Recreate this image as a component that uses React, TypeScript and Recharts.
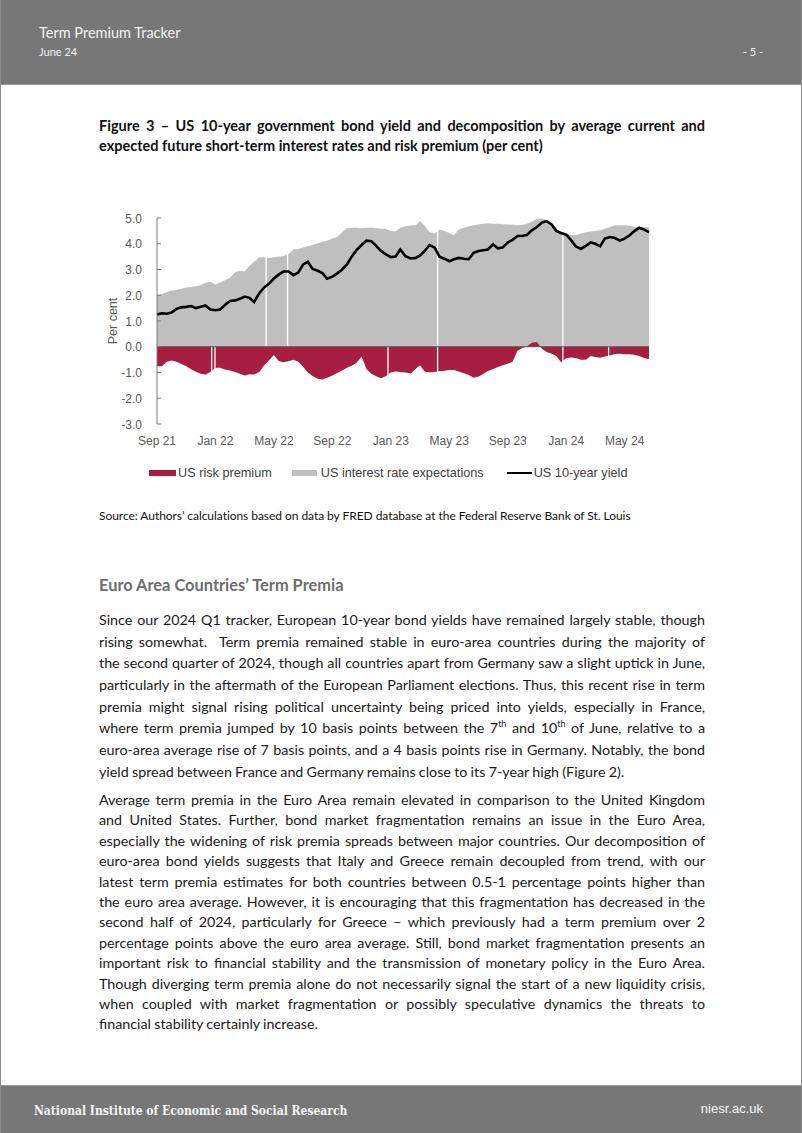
import React from 'react';
import { ComposedChart, Area, Line, XAxis, YAxis, ReferenceLine, Legend } from 'recharts';

const dates = [
  '2021-09-01','2021-09-11','2021-09-21','2021-10-01','2021-10-11','2021-10-21','2021-11-01','2021-11-11','2021-11-21','2021-12-01','2021-12-11','2021-12-21',
  '2022-01-01','2022-01-11','2022-01-21','2022-02-01','2022-02-11','2022-02-21','2022-03-01','2022-03-11','2022-03-21','2022-04-01','2022-04-11','2022-04-21',
  '2022-05-01','2022-05-11','2022-05-21','2022-06-01','2022-06-11','2022-06-21','2022-07-01','2022-07-11','2022-07-21','2022-08-01','2022-08-11','2022-08-21',
  '2022-09-01','2022-09-11','2022-09-21','2022-10-01','2022-10-11','2022-10-21','2022-11-01','2022-11-11','2022-11-21','2022-12-01','2022-12-11','2022-12-21',
  '2023-01-01','2023-01-11','2023-01-21','2023-02-01','2023-02-11','2023-02-21','2023-03-01','2023-03-11','2023-03-21','2023-04-01','2023-04-11','2023-04-21',
  '2023-05-01','2023-05-11','2023-05-21','2023-06-01','2023-06-11','2023-06-21','2023-07-01','2023-07-11','2023-07-21','2023-08-01','2023-08-11','2023-08-21',
  '2023-09-01','2023-09-11','2023-09-21','2023-10-01','2023-10-11','2023-10-21','2023-11-01','2023-11-11','2023-11-21','2023-12-01','2023-12-11','2023-12-21',
  '2024-01-01','2024-01-11','2024-01-21','2024-02-01','2024-02-11','2024-02-21','2024-03-01','2024-03-11','2024-03-21','2024-04-01','2024-04-11','2024-04-21',
  '2024-05-01','2024-05-11','2024-05-21','2024-06-01','2024-06-11','2024-06-21',
];

const interestRateExpectations = [
  2.0, 2.05, 2.12, 2.18, 2.2, 2.25, 2.3, 2.32, 2.35, 2.4, 2.48, 2.52,
  2.42, 2.5, 2.58, 2.68, 2.9, 2.95, 2.92, 3.15, 3.3, 3.48, 3.48, 3.45,
  3.48, 3.5, 3.52, 3.6, 3.78, 3.8, 3.85, 3.9, 3.95, 4.02, 4.08, 4.12,
  4.2, 4.26, 4.45, 4.6, 4.62, 4.62, 4.6, 4.62, 4.62, 4.6, 4.58, 4.58,
  4.5, 4.48, 4.62, 4.68, 4.72, 4.72, 4.88, 4.7, 4.45, 4.4, 4.55, 4.5,
  4.42, 4.32, 4.55, 4.62, 4.68, 4.72, 4.75, 4.78, 4.8, 4.78, 4.78, 4.76,
  4.75, 4.74, 4.72, 4.74, 4.78, 4.85, 4.97, 4.98, 4.92, 4.72, 4.6, 4.45,
  4.4, 4.34, 4.33, 4.4, 4.45, 4.48, 4.5, 4.52, 4.58, 4.65, 4.72, 4.72,
  4.72, 4.7, 4.66, 4.65, 4.66, 4.64,
];

const riskPremium = [
  -0.76, -0.76, -0.58, -0.53, -0.58, -0.66, -0.76, -0.87, -0.97, -1.05, -1.08, -0.98,
  -0.82, -0.82, -0.88, -0.92, -0.98, -1.06, -1.12, -1.07, -1.08, -0.98, -0.72, -0.52,
  -0.32, -0.55, -0.6, -0.56, -0.5, -0.58, -0.78, -1.0, -1.14, -1.24, -1.27, -1.2,
  -1.12, -1.02, -0.92, -0.82, -0.74, -0.63, -0.38, -0.86, -1.05, -1.15, -1.22, -1.15,
  -1.0, -0.96, -0.98, -1.0, -1.04, -0.85, -0.72, -0.97, -0.99, -0.98, -0.95, -0.93,
  -0.9, -0.9, -0.96, -1.03, -1.1, -1.2, -1.16, -1.06, -0.94, -0.86, -0.79, -0.72,
  -0.66, -0.58, -0.16, -0.05, 0.02, 0.16, 0.18, -0.08, -0.2, -0.27, -0.36, -0.6,
  -0.45, -0.42, -0.44, -0.5, -0.5, -0.36, -0.4, -0.43, -0.38, -0.34, -0.28, -0.27,
  -0.29, -0.29, -0.31, -0.36, -0.44, -0.49,
];

const yield10y = [
  1.25, 1.3, 1.28, 1.33, 1.47, 1.53, 1.55, 1.58, 1.5, 1.55, 1.6, 1.45,
  1.42, 1.45, 1.62, 1.78, 1.8, 1.87, 1.95, 1.9, 1.74, 2.08, 2.3, 2.45,
  2.65, 2.8, 2.92, 2.92, 2.78, 2.88, 3.2, 3.3, 3.02, 2.95, 2.86, 2.64,
  2.72, 2.85, 3.0, 3.2, 3.5, 3.75, 3.95, 4.12, 4.1, 3.92, 3.72, 3.6,
  3.48, 3.5, 3.78, 3.52, 3.43, 3.45, 3.55, 3.72, 3.95, 3.85, 3.5, 3.42,
  3.32, 3.4, 3.45, 3.42, 3.4, 3.65, 3.72, 3.75, 3.78, 3.98, 3.82, 3.85,
  4.05, 4.15, 4.3, 4.3, 4.35, 4.52, 4.65, 4.82, 4.88, 4.75, 4.5, 4.42,
  4.35, 4.15, 3.9, 3.8, 3.92, 4.05, 4.0, 3.9, 4.2, 4.26, 4.22, 4.12,
  4.2, 4.32, 4.48, 4.62, 4.55, 4.45,
];

const xTickDates = ['2021-09-01','2022-01-01','2022-05-01','2022-09-01','2023-01-01','2023-05-01','2023-09-01','2024-01-01','2024-05-01'];
const xTickLabels = ['Sep 21','Jan 22','May 22','Sep 22','Jan 23','May 23','Sep 23','Jan 24','May 24'];
const yTicks = [-3, -2, -1, 0, 1, 2, 3, 4, 5];

// trading days missing from one or both series (white gaps in the chart)
const expectationGapDates = ['2022-04-15', '2022-05-30', '2023-04-07', '2023-12-25'];
const premiumGapDates = ['2021-12-24', '2021-12-31', '2022-12-26', '2023-04-07', '2023-12-25', '2024-03-29'];

const seriesNames = ['US risk premium', 'US interest rate expectations', 'US 10-year yield'];

const paragraph1 = [
  'Since our 2024 Q1 tracker, European 10-year bond yields have remained largely stable, though',
  'rising somewhat.\u00a0 Term premia remained stable in euro-area countries during the majority of',
  'the second quarter of 2024, though all countries apart from Germany saw a slight uptick in June,',
  'particularly in the aftermath of the European Parliament elections. Thus, this recent rise in term',
  'premia might signal rising political uncertainty being priced into yields, especially in France,',
  'where term premia jumped by 10 basis points between the 7^th and 10^th of June, relative to a',
  'euro-area average rise of 7 basis points, and a 4 basis points rise in Germany. Notably, the bond',
  'yield spread between France and Germany remains close to its 7-year high (Figure 2).',
];

const paragraph2 = [
  'Average term premia in the Euro Area remain elevated in comparison to the United Kingdom',
  'and United States. Further, bond market fragmentation remains an issue in the Euro Area,',
  'especially the widening of risk premia spreads between major countries. Our decomposition of',
  'euro-area bond yields suggests that Italy and Greece remain decoupled from trend, with our',
  'latest term premia estimates for both countries between 0.5-1 percentage points higher than',
  'the euro area average. However, it is encouraging that this fragmentation has decreased in the',
  'second half of 2024, particularly for Greece – which previously had a term premium over 2',
  'percentage points above the euro area average. Still, bond market fragmentation presents an',
  'important risk to financial stability and the transmission of monetary policy in the Euro Area.',
  'Though diverging term premia alone do not necessarily signal the start of a new liquidity crisis,',
  'when coupled with market fragmentation or possibly speculative dynamics the threats to',
  'financial stability certainly increase.',
];

const RED = '#A81D42';
const GREY = '#BFBFBF';
const AXIS_GREY = '#595959';
const CHART_FONT = '"Liberation Sans", Arial, sans-serif';

function toT(s: string): number {
  const [y, m, d] = s.split('-').map(Number);
  const dim = new Date(y, m, 0).getDate();
  return (y - 2021) * 12 + (m - 9) + (d - 1) / dim;
}

const data = dates.map((d, i) => ({
  t: toT(d),
  exp: interestRateExpectations[i],
  rp: riskPremium[i],
  yld: yield10y[i],
}));

const xTicks = xTickDates.map(toT);
const lastT = data[data.length - 1].t;

const YTick = (props: any) => {
  const { x, y, payload } = props;
  return (
    <g>
      <text x={x} y={y} dy={4.5} textAnchor="end" fill={AXIS_GREY} fontSize={12} fontFamily={CHART_FONT}>
        {Number(payload.value).toFixed(1)}
      </text>
      <line x1={x + 15} x2={x + 19} y1={y} y2={y} stroke="#7a7a7a" strokeWidth={1} />
    </g>
  );
};

const renderLegend = () => (
  <div style={{ height: 18, display: 'flex', alignItems: 'center', paddingLeft: 58, fontFamily: CHART_FONT, fontSize: 12.7, color: '#404040', whiteSpace: 'nowrap' }}>
    <span style={{ display: 'inline-block', width: 27, height: 6, background: RED, marginRight: 2 }} />
    <span style={{ marginRight: 20 }}>{seriesNames[0]}</span>
    <span style={{ display: 'inline-block', width: 25, height: 6, background: GREY, marginRight: 4 }} />
    <span style={{ marginRight: 23 }}>{seriesNames[1]}</span>
    <span style={{ display: 'inline-block', width: 25, height: 2, background: '#000', marginRight: 2 }} />
    <span>{seriesNames[2]}</span>
  </div>
);

const Chart = () => (
  <ComposedChart width={570} height={285} data={data} margin={{ top: 13, right: 12, left: 0, bottom: 8 }}>
    <XAxis
      dataKey="t"
      type="number"
      domain={[0, lastT]}
      ticks={xTicks}
      interval={0}
      tickFormatter={(v: number) => {
        const i = xTicks.findIndex((tt) => Math.abs(tt - v) < 1e-6);
        return i >= 0 ? xTickLabels[i] : '';
      }}
      axisLine={false}
      tickLine={false}
      tickSize={0}
      tickMargin={12}
      height={40}
      tick={{ fill: AXIS_GREY, fontSize: 12, fontFamily: CHART_FONT }}
    />
    <YAxis
      type="number"
      domain={[-3, 5]}
      ticks={yTicks}
      interval={0}
      width={66}
      tickSize={0}
      tickMargin={15}
      tickLine={false}
      axisLine={{ stroke: '#7a7a7a', strokeWidth: 1 }}
      tick={<YTick />}
      label={{
        content: (p: any) => {
          const vb = p.viewBox || { x: 0, y: 13, height: 206 };
          const cx = vb.x + 26;
          const cy = vb.y + vb.height / 2;
          return (
            <text x={cx} y={cy} transform={`rotate(-90, ${cx}, ${cy})`} textAnchor="middle" fill={AXIS_GREY} fontSize={12.5} fontFamily={CHART_FONT}>
              Per cent
            </text>
          );
        },
      }}
    />
    <Legend verticalAlign="bottom" align="left" height={18} content={renderLegend} />
    <Area dataKey="exp" name={seriesNames[1]} type="linear" baseValue={0} fill={GREY} fillOpacity={1} stroke="none" isAnimationActive={false} />
    <Area dataKey="rp" name={seriesNames[0]} type="linear" baseValue={0} fill={RED} fillOpacity={1} stroke="none" isAnimationActive={false} />
    {expectationGapDates.map((d) => (
      <ReferenceLine key={'e' + d} segment={[{ x: toT(d), y: 0 }, { x: toT(d), y: 5 }]} stroke="#ffffff" strokeWidth={1.3} zIndex={150} />
    ))}
    {premiumGapDates.map((d) => (
      <ReferenceLine key={'p' + d} segment={[{ x: toT(d), y: 0 }, { x: toT(d), y: -3 }]} stroke="#ffffff" strokeWidth={1.3} zIndex={150} />
    ))}
    <ReferenceLine y={0} stroke="#555555" strokeWidth={1} zIndex={160} />
    <Line dataKey="yld" name={seriesNames[2]} type="linear" stroke="#000000" strokeWidth={2.6} dot={false} isAnimationActive={false} />
  </ComposedChart>
);

const sup: React.CSSProperties = { fontSize: 9, lineHeight: 0, verticalAlign: 'super' };

function renderLine(line: string) {
  const parts = line.split(/\^(\w+)/);
  return parts.map((p, i) => (i % 2 === 1 ? <span key={i} style={sup}>{p}</span> : <React.Fragment key={i}>{p}</React.Fragment>));
}

const Paragraph = ({ lines, top, lineHeight }: { lines: string[]; top: number; lineHeight: number }) => (
  <div style={{ position: 'absolute', left: 98, top, width: 606, fontFamily: 'Lato, sans-serif', fontSize: 14.3, color: '#1a1a1a' }}>
    {lines.map((l, i) => {
      const last = i === lines.length - 1;
      return (
        <div
          key={i}
          style={{
            height: lineHeight,
            lineHeight: `${lineHeight}px`,
            whiteSpace: 'nowrap',
            textAlign: last ? 'left' : 'justify',
            textAlignLast: last ? 'left' : 'justify',
            wordSpacing: -0.4,
          } as React.CSSProperties}
        >
          {renderLine(l)}
        </div>
      );
    })}
  </div>
);

export default function App() {
  return (
    <div style={{ position: 'relative', width: 802, height: 1133, background: '#fff', overflow: 'hidden', boxSizing: 'border-box', borderLeft: '1px solid #8c8c8c', borderRight: '1px solid #8c8c8c' }}>
      <style>{'body{margin:0;}'}</style>
      {/* Header */}
      <div style={{ position: 'absolute', left: 0, top: 0, width: 802, height: 84, background: '#777777', borderBottom: '1px solid #9a9a9a' }}>
        <div style={{ position: 'absolute', left: 38, top: 24, fontFamily: 'Lato, sans-serif', fontSize: 14.5, lineHeight: '18px', color: '#f2f2f2' }}>Term Premium Tracker</div>
        <div style={{ position: 'absolute', left: 38, top: 45, fontFamily: 'Lato, sans-serif', fontSize: 11, lineHeight: '14px', color: '#f2f2f2' }}>June 24</div>
        <div style={{ position: 'absolute', right: 40, top: 45, fontFamily: 'Lato, sans-serif', fontSize: 11, lineHeight: '14px', color: '#f2f2f2' }}>- 5 -</div>
      </div>

      {/* Figure title */}
      <div style={{ position: 'absolute', left: 98, width: 606, top: 116, fontFamily: 'Lato, sans-serif', fontWeight: 700, fontSize: 14.5, lineHeight: '20px', color: '#111', textAlign: 'justify' }}>
        Figure 3 – US 10-year government bond yield and decomposition by average current and expected future short-term interest rates and risk premium (per cent)
      </div>

      {/* Chart */}
      <div style={{ position: 'absolute', left: 90, top: 205, width: 570, height: 285 }}>
        <Chart />
      </div>

      {/* Source */}
      <div style={{ position: 'absolute', left: 98, top: 508, fontFamily: 'Lato, sans-serif', fontSize: 12, lineHeight: '16px', color: '#111', letterSpacing: -0.05 }}>
        Source: Authors’ calculations based on data by FRED database at the Federal Reserve Bank of St. Louis
      </div>

      {/* Heading */}
      <div style={{ position: 'absolute', left: 98, top: 575, fontFamily: 'Lato, sans-serif', fontSize: 16.4, fontWeight: 700, lineHeight: '20px', color: '#6e6e6e' }}>
        Euro Area Countries’ Term Premia
      </div>

      <Paragraph lines={paragraph1} top={609} lineHeight={21.7} />
      <Paragraph lines={paragraph2} top={790} lineHeight={20.4} />

      {/* Footer */}
      <div style={{ position: 'absolute', left: 0, top: 1085, width: 802, height: 48, background: '#777777', borderTop: '1px solid #9a9a9a' }}>
        <div style={{ position: 'absolute', left: 33, top: 17, fontFamily: '"DejaVu Serif", serif', fontStretch: 'condensed', fontWeight: 700, fontSize: 12, lineHeight: '16px', color: '#f5f5f5' }}>
          National Institute of Economic and Social Research
        </div>
        <div style={{ position: 'absolute', right: 40, top: 15, fontFamily: '"Liberation Sans", Arial, sans-serif', fontSize: 13, lineHeight: '16px', color: '#f5f5f5' }}>
          niesr.ac.uk
        </div>
      </div>
    </div>
  );
}
